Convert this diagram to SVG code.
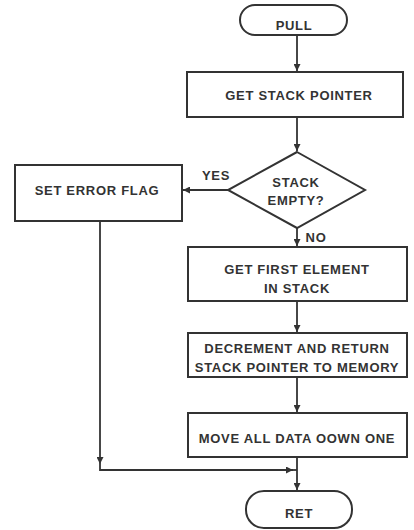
<svg xmlns="http://www.w3.org/2000/svg" width="414" height="530" viewBox="0 0 414 530">
<style>
.shape{fill:#fff;stroke:#333;stroke-width:2}
.lbl{font-family:"Liberation Sans",Arial,sans-serif;font-size:13px;font-weight:bold;fill:#333;letter-spacing:0.7px;text-anchor:middle}
.edge{fill:none;stroke:#333;stroke-width:1.8}
.arr{marker-end:url(#ah)}
</style>
<defs>
<marker id="ah" viewBox="0 0 10 10" refX="10" refY="5" markerWidth="7" markerHeight="7" markerUnits="userSpaceOnUse" orient="auto">
<path d="M0,0 L10,5 L0,10 Z" fill="#333"/>
</marker>
</defs>
<rect width="414" height="530" fill="#fff"/>
<g id="connectors">
<path class="edge arr" d="M297,35 V71"/>
<path class="edge arr" d="M297,117 V151"/>
<path class="edge arr" d="M228,190 H183"/>
<path class="edge arr" d="M297,228 V246"/>
<path class="edge arr" d="M297,301 V332"/>
<path class="edge arr" d="M297,377 V412"/>
<path class="edge arr" d="M297,457 V490"/>
<path class="edge arr" d="M100,221 V464"/>
<path class="edge arr" d="M100,464 V470 H293"/>
<path class="edge" d="M293,470 H297"/>
<text class="lbl" x="216" y="180">YES</text>
<text class="lbl" x="316" y="242">NO</text>
</g>
<g id="pull">
<rect class="shape" x="240" y="5" width="107" height="30" rx="15"/>
<text class="lbl" x="294" y="30">PULL</text>
</g>
<g id="get-stack-pointer">
<rect class="shape" x="187" y="72" width="216" height="45"/>
<text class="lbl" x="299" y="100">GET STACK POINTER</text>
</g>
<g id="stack-empty">
<polygon class="shape" points="297,152 365,190 297,228 228,190"/>
<text class="lbl" x="296" y="187">STACK</text>
<text class="lbl" x="296" y="205">EMPTY?</text>
</g>
<g id="set-error-flag">
<rect class="shape" x="15" y="165" width="167" height="56"/>
<text class="lbl" x="97" y="195">SET ERROR FLAG</text>
</g>
<g id="get-first-element">
<rect class="shape" x="188" y="247" width="219" height="54"/>
<text class="lbl" x="297" y="274">GET FIRST ELEMENT</text>
<text class="lbl" x="297" y="293">IN STACK</text>
</g>
<g id="decrement">
<rect class="shape" x="188" y="333" width="219" height="44"/>
<text class="lbl" x="297" y="353">DECREMENT AND RETURN</text>
<text class="lbl" x="297" y="372">STACK POINTER TO MEMORY</text>
</g>
<g id="move-all-data">
<rect class="shape" x="188" y="413" width="219" height="44"/>
<text class="lbl" x="297" y="443">MOVE ALL DATA OOWN ONE</text>
</g>
<g id="ret">
<rect class="shape" x="246" y="491" width="106" height="37" rx="18"/>
<text class="lbl" x="299" y="518">RET</text>
</g>
</svg>
